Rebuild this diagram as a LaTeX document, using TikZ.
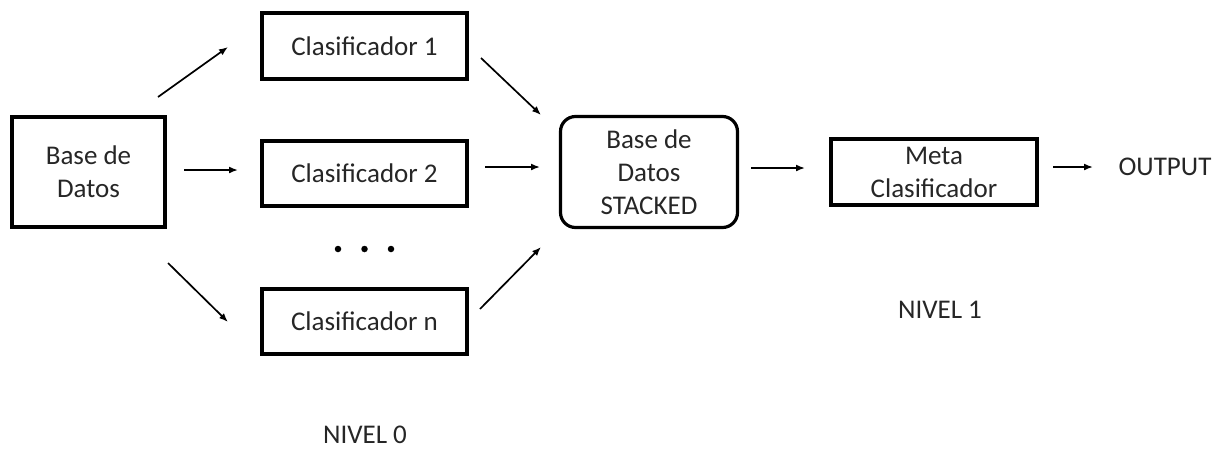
\documentclass[tikz,border=0pt]{standalone}
\usepackage{fontspec}
\setmainfont{Carlito}
\usetikzlibrary{arrows.meta}
\begin{document}
\begin{tikzpicture}[x=1pt,y=-1pt,
  txt/.style={font=\fontsize{27}{33}\selectfont, align=center, text=black!85},
  box/.style={txt, draw=black, line width=3.6pt, inner sep=0pt},
  rbox/.style={txt, draw=black, line width=3.2pt, rounded corners=15pt, inner sep=0pt},
  lbl/.style={txt, inner sep=1pt},
  arr/.style={line width=1.7pt, -{Latex[length=9pt,width=7pt]}},
  dot/.style={circle, fill=black, inner sep=0pt, minimum size=6.5pt}]
\useasboundingbox (0,0) rectangle (1218,448);
\node[box, minimum width=153pt, minimum height=110pt] (base) at (88.5,172) {Base de\\Datos};
\node[box, minimum width=205pt, minimum height=66pt] (c1) at (364.5,46) {Clasificador 1};
\node[box, minimum width=205pt, minimum height=65pt] (c2) at (364.5,173.5) {Clasificador 2};
\node[box, minimum width=205pt, minimum height=65pt] (cn) at (364.5,321.5) {Clasificador n};
\node[dot] (d1) at (338,249) {};
\node[dot] (d2) at (364.5,249) {};
\node[dot] (d3) at (391,249) {};
\node[rbox, minimum width=177pt, minimum height=111pt] (st) at (649,172) {Base de\\Datos\\STACKED};
\node[box, minimum width=206pt, minimum height=66pt] (meta) at (934,172) {Meta\\Clasificador};
\node[lbl] (out) at (1165,167) {OUTPUT};
\node[lbl] (n1) at (940,310) {NIVEL 1};
\node[lbl] (n0) at (365,435) {NIVEL 0};
% arrow end points
\coordinate (a1s) at (158,97);  \coordinate (a1e) at (228,47);
\coordinate (a2s) at (184,170); \coordinate (a2e) at (238,170);
\coordinate (a3s) at (168,263); \coordinate (a3e) at (228,322);
\coordinate (b1s) at (481,58);  \coordinate (b1e) at (541,115);
\coordinate (b2s) at (485,167); \coordinate (b2e) at (540,167);
\coordinate (b3s) at (480,309); \coordinate (b3e) at (541,247);
\coordinate (cs) at (751,168);  \coordinate (ce) at (805,168);
\coordinate (ds) at (1053,167); \coordinate (de) at (1093,167);
\draw[arr] (a1s) -- (a1e);
\draw[arr] (a2s) -- (a2e);
\draw[arr] (a3s) -- (a3e);
\draw[arr] (b1s) -- (b1e);
\draw[arr] (b2s) -- (b2e);
\draw[arr] (b3s) -- (b3e);
\draw[arr] (cs) -- (ce);
\draw[arr] (ds) -- (de);
\end{tikzpicture}
\end{document}
